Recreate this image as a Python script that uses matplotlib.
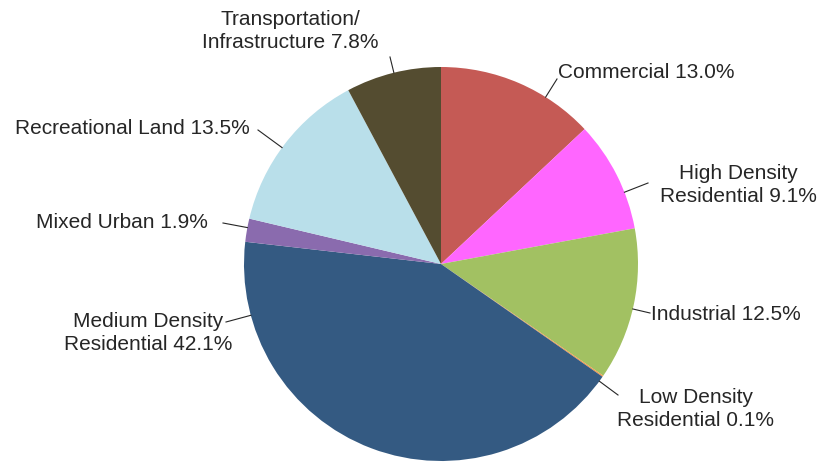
import matplotlib.pyplot as plt
import numpy as np

plt.rcParams["font.family"] = ["Liberation Sans", "DejaVu Sans"]

# land use shares, clockwise from 12 o'clock
names = [
    "Commercial",
    "High Density\nResidential",
    "Industrial",
    "Low Density\nResidential",
    "Medium Density\nResidential",
    "Mixed Urban",
    "Recreational Land",
    "Transportation/\nInfrastructure",
]
shares = [13.0, 9.1, 12.5, 0.1, 42.1, 1.9, 13.5, 7.8]
colors = ["#C55A55", "#FF66FF", "#A2C162", "#F79646",
          "#345A82", "#8A6BAE", "#B9DFEA", "#544C30"]

W, H = 823, 463
cx, cy, R = 441, 264, 197

# label layout in picture pixels: text anchor, alignment, leader start
lab_xy = [(558, 73), (738, 185), (651, 315), (696, 409),
          (148, 333), (208, 222), (250, 128), (290, 31)]
lab_ha = ["left", "center", "left", "center", "center", "right", "right", "center"]
lead = [(557, 79), (648, 183), (650, 313), (618, 395),
        (226, 322), (223, 223), (258, 130), (390, 57)]

fig = plt.figure(figsize=(W / 100, H / 100), dpi=100)
ax = fig.add_axes([0, 0, 1, 1])

wedges, _ = ax.pie(shares, colors=colors, startangle=90, counterclock=False,
                   center=(cx, H - cy), radius=R,
                   wedgeprops=dict(linewidth=0))

for i, w in enumerate(wedges):
    label = "%s %.1f%%" % (names[i], shares[i])
    tx, ty = lab_xy[i]
    ax.text(tx, H - ty, label, ha=lab_ha[i], va="center", fontsize=15,
            color="#262626", linespacing=1.25)
    lx, ly = lead[i]
    ang = np.arctan2((H - ly) - (H - cy), lx - cx)
    ax.plot([lx, cx + R * np.cos(ang)], [H - ly, H - cy + R * np.sin(ang)],
            color="#262626", lw=0.8)

ax.set_xlim(0, W)
ax.set_ylim(0, H)
ax.axis("off")

fig.savefig("out.png", dpi=100)
